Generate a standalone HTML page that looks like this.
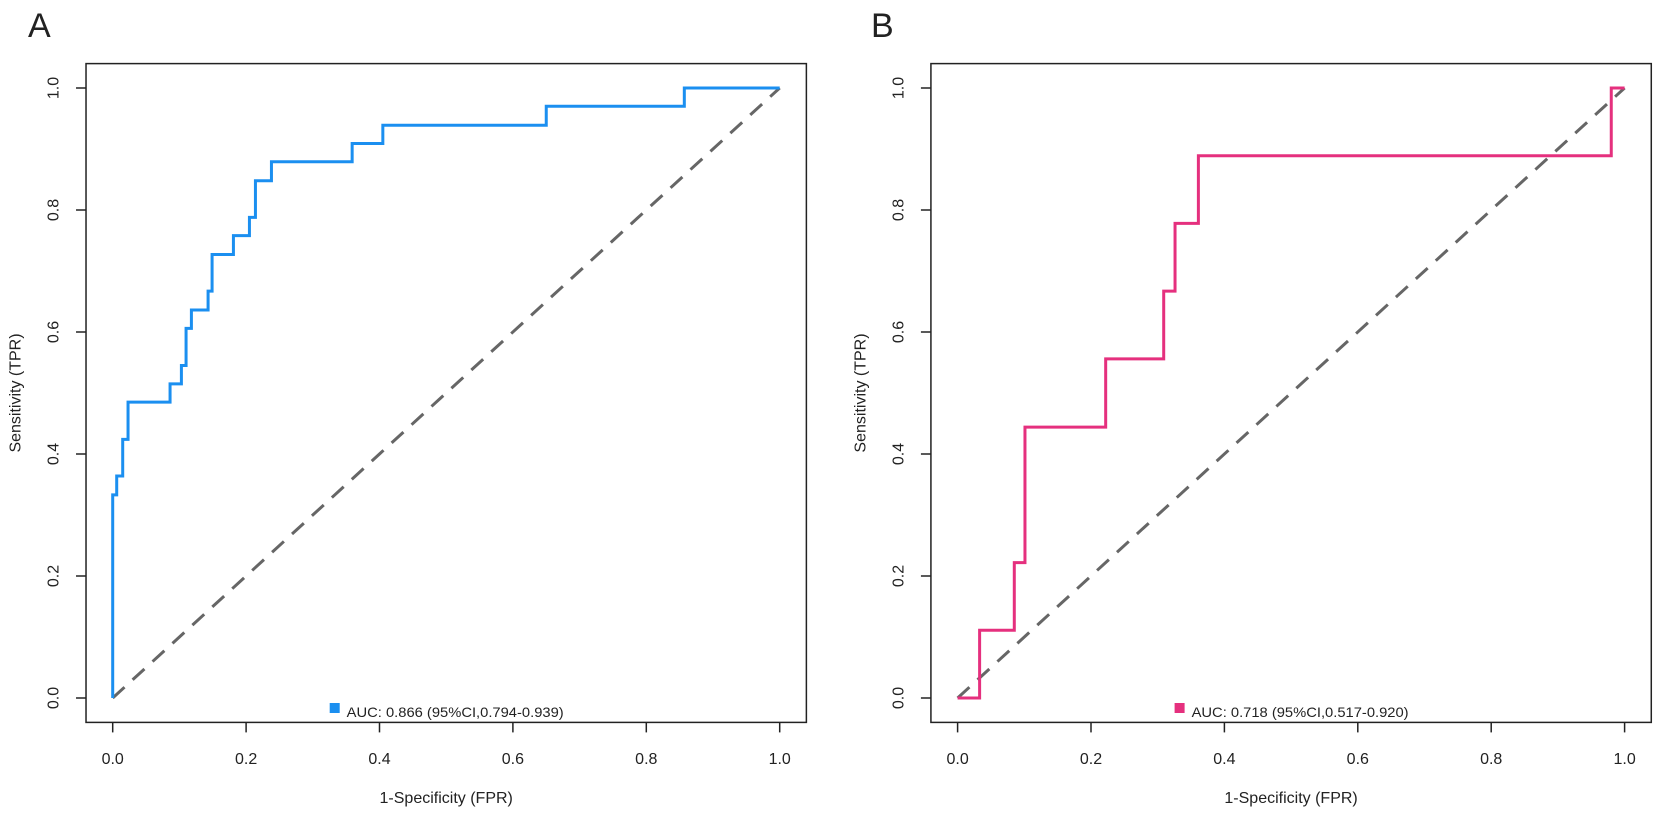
<!DOCTYPE html>
<html><head><meta charset="utf-8"><style>
html,body{margin:0;padding:0;background:#fff}
svg text{font-family:"Liberation Sans",Arial,sans-serif;fill:#222}
</style></head><body>
<svg id="fig" width="1654" height="810" viewBox="0 0 1654 810" xmlns="http://www.w3.org/2000/svg">
<text x="28" y="37" font-size="34">A</text>
<text x="871" y="37" font-size="34">B</text>
</svg>
<script>
const ticks = [0, 0.2, 0.4, 0.6, 0.8, 1.0];
const tickLabels = ["0.0", "0.2", "0.4", "0.6", "0.8", "1.0"];
const fprA = [0, 0.006, 0.015, 0.023, 0.086, 0.103, 0.110, 0.118, 0.143, 0.149, 0.181, 0.205, 0.214, 0.238, 0.359, 0.405, 0.650, 0.857];
const tprA = [0.333, 0.364, 0.424, 0.485, 0.515, 0.545, 0.606, 0.636, 0.667, 0.727, 0.758, 0.788, 0.848, 0.879, 0.909, 0.939, 0.970, 1.0];
const fprB = [0.033, 0.085, 0.101, 0.222, 0.309, 0.326, 0.361, 0.98];
const tprB = [0.111, 0.222, 0.444, 0.556, 0.667, 0.778, 0.889, 1.0];
const legendA = "AUC: 0.866 (95%CI,0.794-0.939)";
const legendB = "AUC: 0.718 (95%CI,0.517-0.920)";

const svg = document.getElementById('fig');
const NS = 'http://www.w3.org/2000/svg';
function mk(tag, attrs, parent) {
  const e = document.createElementNS(NS, tag);
  for (const k in attrs) e.setAttribute(k, attrs[k]);
  (parent || svg).appendChild(e);
  return e;
}

function panel(id, x0, fpr, tpr, color, legendText) {
  const R = 667, y0 = 698, H = 610;
  const sx = v => x0 + v * R;
  const sy = v => y0 - v * H;
  const g = mk('g', {});
  
  
  const box = mk('rect', {x: sx(-0.04), y: sy(1.04), width: R * 1.08, height: H * 1.08, fill: 'none', stroke: '#222', 'stroke-width': 1.5}, g);
  
  
  ticks.forEach((t, i) => {
    const xt = mk('line', {x1: sx(t), x2: sx(t), y1: sy(-0.04), y2: sy(-0.04) + 10, stroke: '#222', 'stroke-width': 1.5}, g);
    
    
    const xl = mk('text', {x: sx(t), y: 764, 'font-size': 16, 'text-anchor': 'middle'}, g);
    xl.textContent = tickLabels[i];
    
    
    const yt = mk('line', {x1: sx(-0.04) - 10, x2: sx(-0.04), y1: sy(t), y2: sy(t), stroke: '#222', 'stroke-width': 1.5}, g);
    
    
    const lx = x0 - 54;
    const yl = mk('text', {x: lx, y: sy(t), 'font-size': 16, 'text-anchor': 'middle', transform: `rotate(-90 ${lx} ${sy(t)})`}, g);
    yl.textContent = tickLabels[i];
    
    
  });
  const xt = mk('text', {x: sx(0.5), y: 803, 'font-size': 16, 'text-anchor': 'middle'}, g);
  xt.textContent = '1-Specificity (FPR)';
  
  
  const tx = x0 - 92, ty = sy(0.5);
  const yt = mk('text', {x: tx, y: ty, 'font-size': 16, 'text-anchor': 'middle', transform: `rotate(-90 ${tx} ${ty})`}, g);
  yt.textContent = 'Sensitivity (TPR)';
  
  
  const diag = mk('line', {x1: sx(0), y1: sy(0), x2: sx(1), y2: sy(1), stroke: '#666', 'stroke-width': 3, 'stroke-dasharray': '16 11'}, g);
  
  
  let d = `M${sx(0)},${sy(0)}`, py = 0;
  for (let i = 0; i < fpr.length; i++) {
    d += ` L${sx(fpr[i])},${sy(py)} L${sx(fpr[i])},${sy(tpr[i])}`;
    py = tpr[i];
  }
  d += ` L${sx(1)},${sy(py)}`;
  const curve = mk('path', {d: d, fill: 'none', stroke: color, 'stroke-width': 3, 'stroke-linejoin': 'miter'}, g);
  
  
  const lw = 217, lxs = sx(0.5) - lw / 2 - 8;
  const sq = mk('rect', {x: lxs, y: 703, width: 10, height: 10, fill: color}, g);
  
  
  const lt = mk('text', {x: lxs + 17, y: 717, 'font-size': 14, textLength: lw, lengthAdjust: 'spacingAndGlyphs'}, g);
  lt.textContent = legendText;
  
  
}
panel('a', 112.7, fprA, tprA, '#1b8ff0', legendA);
panel('b', 957.6, fprB, tprB, '#e5307e', legendB);
</script>
</body></html>
